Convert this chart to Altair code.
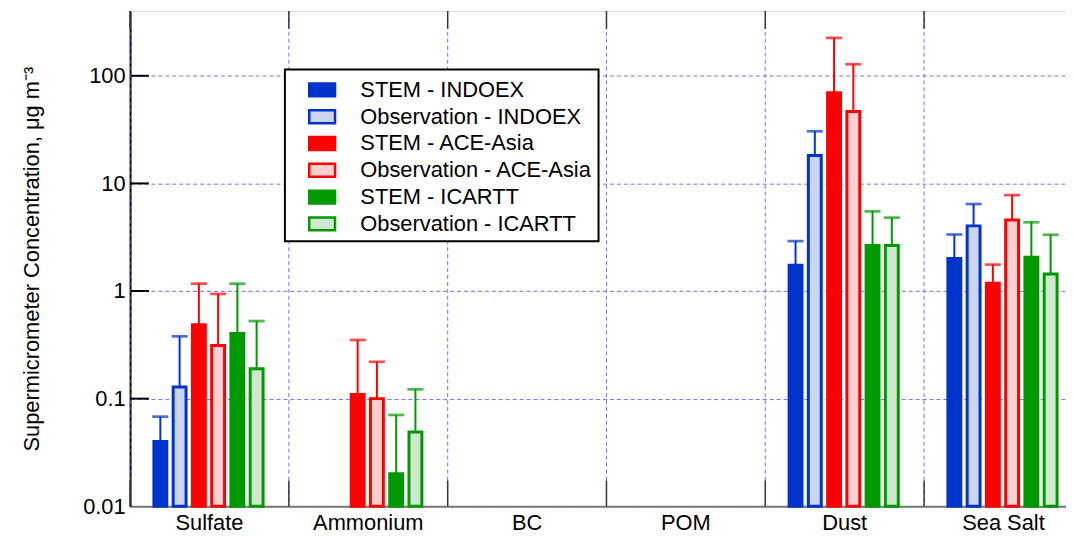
import altair as alt
import pandas as pd

categories = ["Sulfate", "Ammonium", "BC", "POM", "Dust", "Sea Salt"]
series = ["STEM - INDOEX", "Observation - INDOEX", "STEM - ACE-Asia",
          "Observation - ACE-Asia", "STEM - ICARTT", "Observation - ICARTT"]

# mean values per series, in category order (None = no data)
stem_indoex = [0.040, None, None, None, 1.74, 2.01]
obs_indoex = [0.128, None, None, None, 18.2, 4.03]
stem_ace = [0.486, 0.109, None, None, 69.7, 1.18]
obs_ace = [0.311, 0.100, None, None, 46.6, 4.58]
stem_icartt = [0.402, 0.020, None, None, 2.65, 2.06]
obs_icartt = [0.190, 0.049, None, None, 2.65, 1.44]

# upper ends of the error bars
err_stem_indoex = [0.068, None, None, None, 2.91, 3.35]
err_obs_indoex = [0.379, None, None, None, 30.5, 6.43]
err_stem_ace = [1.17, 0.351, None, None, 225.0, 1.76]
err_obs_ace = [0.94, 0.22, None, None, 128.0, 7.78]
err_stem_icartt = [1.17, 0.0705, None, None, 5.5, 4.35]
err_obs_icartt = [0.526, 0.122, None, None, 4.81, 3.33]

y_ticks = [0.01, 0.1, 1, 10, 100]
y_min, y_max = 0.01, 400
boundaries = ["Sulfate", "Ammonium", "BC", "POM", "Dust", "Sea Salt"]

fill_colors = ["#0033cc", "#ccd5f0", "#ff0000", "#ffd0d0", "#009900", "#cfe8cf"]
line_colors = ["#0033cc", "#0033cc", "#ff0000", "#ff0000", "#009900", "#009900"]

vals = [stem_indoex, obs_indoex, stem_ace, obs_ace, stem_icartt, obs_icartt]
errs = [err_stem_indoex, err_obs_indoex, err_stem_ace, err_obs_ace,
        err_stem_icartt, err_obs_icartt]
rows = []
for s, v, e in zip(series, vals, errs):
    for c, vv, ee in zip(categories, v, e):
        if vv is not None:
            rows.append({"cat": c, "series": s, "value": vv, "err": ee})
df = pd.DataFrame(rows)
bdf = pd.DataFrame({"cat": boundaries})
tdf = pd.DataFrame({"v": y_ticks[1:]})

W, H = 943, 499
GRID = "#6f6fff"
FONT = "Liberation Sans"

xscale = alt.Scale(domain=categories, range=[0, 960], paddingInner=0, paddingOuter=0)
xaxis = alt.Axis(title=None, labelAngle=0, labelFontSize=22, labelColor="black",
                 ticks=False, tickSize=0, labelPadding=6, domainColor="#777777",
                 domainWidth=2, grid=False)
yscale = alt.Scale(type="log", domain=[y_min, y_max], nice=False)
yaxis = alt.Axis(title="Supermicrometer Concentration, μg m⁻³", values=y_ticks,
                 format="~g", labelFontSize=22, labelColor="black", ticks=False,
                 tickSize=0, labelPadding=5, domainColor="black", domainWidth=2,
                 grid=True, gridColor=GRID, gridDash=[4, 3], gridWidth=1,
                 titleFontSize=22, titleFontWeight="normal", titleColor="black",
                 titleAngle=270, titleX=-99, titleY=H / 2,
                 titleAlign="center", titleBaseline="middle")

xoff = alt.XOffset("series:N", scale=alt.Scale(domain=series, range=[24, 134],
                                                   paddingInner=0.33, paddingOuter=0))

legend = alt.Legend(title=None, orient="none", legendX=156, legendY=59,
                    labelFontSize=22, labelColor="black", labelLimit=400,
                    symbolType="M-1,-0.5H1V0.5H-1Z", symbolSize=676,
                    symbolStrokeWidth=2.5, symbolOpacity=1, symbolOffset=17,
                    labelOffset=24, rowPadding=1, padding=6, fillColor="white",
                    strokeColor="black")

fill_scale = alt.Scale(domain=series, range=fill_colors)
stroke_scale = alt.Scale(domain=series, range=line_colors)

vgrid = alt.Chart(bdf).mark_rule(color=GRID, strokeDash=[4, 3], strokeWidth=1).encode(
    x=alt.X("cat:N", bandPosition=0, scale=xscale, axis=xaxis),
    y=alt.value(0), y2=alt.value(H))

vtick_bot = alt.Chart(bdf).mark_rule(color="#333344", strokeWidth=1.5).encode(
    x=alt.X("cat:N", bandPosition=0, scale=xscale, axis=xaxis),
    y=alt.value(H - 26), y2=alt.value(H))
vtick_top = alt.Chart(bdf).mark_rule(color="#333344", strokeWidth=1.5).encode(
    x=alt.X("cat:N", bandPosition=0, scale=xscale, axis=xaxis),
    y=alt.value(0), y2=alt.value(18))

bars = alt.Chart(df).mark_bar(strokeWidth=3).encode(
    x=alt.X("cat:N", scale=xscale, axis=xaxis),
    xOffset=xoff,
    y=alt.Y("value:Q", scale=yscale, axis=yaxis),
    y2=alt.datum(y_min),
    fill=alt.Fill("series:N", scale=fill_scale, legend=legend),
    stroke=alt.Stroke("series:N", scale=stroke_scale, legend=legend),
)

errbars = alt.Chart(df).mark_rule(strokeWidth=2).encode(
    x=alt.X("cat:N", scale=xscale, axis=xaxis),
    xOffset=xoff,
    y=alt.Y("value:Q", scale=yscale, axis=yaxis),
    y2="err:Q",
    stroke=alt.Stroke("series:N", scale=stroke_scale, legend=legend),
)

caps = alt.Chart(df).mark_tick(size=14, thickness=0.5, filled=False,
                               strokeWidth=2.2).encode(
    x=alt.X("cat:N", scale=xscale, axis=xaxis),
    xOffset=xoff,
    y=alt.Y("err:Q", scale=yscale, axis=yaxis),
    stroke=alt.Stroke("series:N", scale=stroke_scale, legend=legend),
)

yticks = alt.Chart(tdf).mark_rule(color="black", strokeWidth=2).encode(
    y=alt.Y("v:Q", scale=yscale, axis=yaxis),
    x=alt.value(1), x2=alt.value(19))

chart = alt.layer(vgrid, vtick_bot, vtick_top, errbars, caps, bars, yticks).properties(
    width=W, height=H,
    autosize=alt.AutoSizeParams(type="none"),
    padding={"left": 123, "top": 1, "right": 0, "bottom": 34},
).configure_view(stroke="black", strokeWidth=2).configure(
    font=FONT
).configure_legend(strokeWidth=2)

chart.save("out.html", embed_options={"renderer": "svg", "actions": False})
